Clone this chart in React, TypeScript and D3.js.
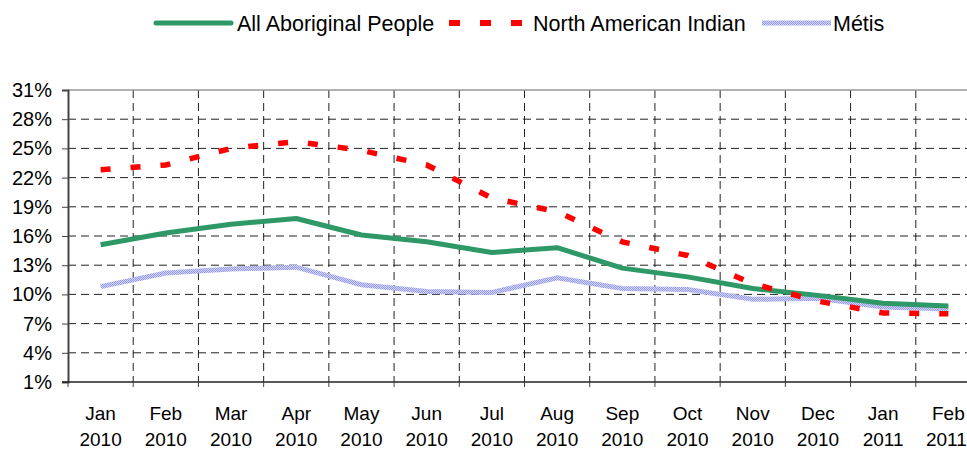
import React, { useEffect, useRef } from 'react';
import * as d3 from 'd3';

const months = ['Jan', 'Feb', 'Mar', 'Apr', 'May', 'Jun', 'Jul', 'Aug', 'Sep', 'Oct', 'Nov', 'Dec', 'Jan', 'Feb'];
const years = ['2010', '2010', '2010', '2010', '2010', '2010', '2010', '2010', '2010', '2010', '2010', '2010', '2011', '2011'];
const allAboriginal = [15.1, 16.3, 17.2, 17.8, 16.1, 15.4, 14.3, 14.8, 12.7, 11.8, 10.6, 9.9, 9.1, 8.8];
const northAmericanIndian = [22.8, 23.3, 25.0, 25.7, 24.8, 23.3, 19.9, 18.5, 15.4, 14.0, 11.1, 9.3, 8.1, 8.0];
const metis = [10.8, 12.2, 12.6, 12.8, 11.0, 10.3, 10.2, 11.7, 10.6, 10.5, 9.5, 9.6, 8.7, 8.5];
const yTicks = [1, 4, 7, 10, 13, 16, 19, 22, 25, 28, 31];

const App = () => {
  const svgRef = useRef<SVGSVGElement>(null);

  useEffect(() => {
    const W = 967;
    const H = 449;
    const margin = { top: 90, left: 68, bottom: 382, right: 981 };
    const font = '"Liberation Sans", Arial, sans-serif';

    const svg = d3.select(svgRef.current).attr('width', W).attr('height', H);
    svg.selectAll('*').remove();

    const keys = months.map((m, i) => `${m} ${years[i]} ${i}`);
    const x = d3.scaleBand().domain(keys).range([margin.left, margin.right]);
    const y = d3.scaleLinear().domain([1, 31]).range([margin.bottom, margin.top]);

    // pattern for the Métis line
    const defs = svg.append('defs');
    const pat = defs
      .append('pattern')
      .attr('id', 'metisPat')
      .attr('patternUnits', 'userSpaceOnUse')
      .attr('width', 2)
      .attr('height', 2);
    pat.append('rect').attr('width', 2).attr('height', 2).attr('fill', '#d6d8fc');
    pat.append('rect').attr('width', 1).attr('height', 1).attr('fill', '#9096f2');
    pat.append('rect').attr('x', 1).attr('y', 1).attr('width', 1).attr('height', 1).attr('fill', '#9096f2');

    // horizontal gridlines
    svg
      .append('g')
      .selectAll('line')
      .data(yTicks.filter((t) => t > 1 && t < 31))
      .enter()
      .append('line')
      .attr('x1', margin.left)
      .attr('x2', margin.right)
      .attr('y1', (d) => y(d))
      .attr('y2', (d) => y(d))
      .attr('stroke', '#222')
      .attr('stroke-width', 1)
      .attr('stroke-dasharray', '8,5');

    // vertical gridlines at category boundaries
    svg
      .append('g')
      .selectAll('line')
      .data(keys.slice(1))
      .enter()
      .append('line')
      .attr('x1', (d) => x(d)!)
      .attr('x2', (d) => x(d)!)
      .attr('y1', margin.top)
      .attr('y2', margin.bottom)
      .attr('stroke', '#222')
      .attr('stroke-width', 1)
      .attr('stroke-dasharray', '8,5');

    // top border
    svg
      .append('line')
      .attr('x1', margin.left)
      .attr('x2', margin.right)
      .attr('y1', y(31))
      .attr('y2', y(31))
      .attr('stroke', '#999')
      .attr('stroke-width', 1.5);

    // y axis
    const yAxis = svg
      .append('g')
      .attr('transform', `translate(${margin.left},0)`)
      .call(d3.axisLeft(y).tickValues(yTicks).tickSize(6).tickFormat((d) => `${d}%`));
    yAxis.select('.domain').attr('stroke', '#444').attr('stroke-width', 2);
    yAxis.selectAll('.tick line').attr('stroke', '#444');
    yAxis
      .selectAll('.tick text')
      .attr('x', -16)
      .attr('fill', '#000')
      .style('font-family', font)
      .style('font-size', '20px');

    // x axis
    const xAxis = svg.append('g').attr('transform', `translate(0,${margin.bottom})`);
    xAxis
      .append('line')
      .attr('x1', margin.left - 6)
      .attr('x2', margin.right)
      .attr('stroke', '#222')
      .attr('stroke-width', 1.5);
    xAxis
      .selectAll('.tk')
      .data(keys)
      .enter()
      .append('line')
      .attr('x1', (d) => x(d)!)
      .attr('x2', (d) => x(d)!)
      .attr('y1', 0)
      .attr('y2', 5)
      .attr('stroke', '#444');
    const lbl = xAxis
      .selectAll('.lbl')
      .data(keys)
      .enter()
      .append('text')
      .attr('x', (d) => x(d)! + x.bandwidth() / 2)
      .attr('text-anchor', 'middle')
      .style('font-family', font)
      .style('font-size', '19px')
      .attr('fill', '#000');
    lbl.append('tspan').attr('y', 38).text((d, i) => months[i]);
    lbl
      .append('tspan')
      .attr('x', (d, i) => x(d)! + x.bandwidth() / 2 - (i === keys.length - 1 ? 2 : 0))
      .attr('y', 64)
      .text((d, i) => years[i]);

    const line = d3
      .line<number>()
      .x((d, i) => x(keys[i])! + x.bandwidth() / 2)
      .y((d) => y(d));

    svg
      .append('path')
      .datum(metis)
      .attr('d', line)
      .attr('fill', 'none')
      .attr('stroke', 'url(#metisPat)')
      .attr('stroke-width', 5);

    svg
      .append('path')
      .datum(allAboriginal)
      .attr('d', line)
      .attr('fill', 'none')
      .attr('stroke', '#2e9966')
      .attr('stroke-width', 5)
      .attr('stroke-linejoin', 'round');

    svg
      .append('path')
      .datum(northAmericanIndian)
      .attr('d', line)
      .attr('fill', 'none')
      .attr('stroke', '#ff0000')
      .attr('stroke-width', 5.5)
      .attr('stroke-dasharray', '10,20');

    // legend
    const legend = svg.append('g');
    const ly = 23;
    legend
      .append('line')
      .attr('x1', 156)
      .attr('x2', 231)
      .attr('y1', ly)
      .attr('y2', ly)
      .attr('stroke', '#2e9966')
      .attr('stroke-width', 5)
      .attr('stroke-linecap', 'round');
    legend
      .append('line')
      .attr('x1', 449)
      .attr('x2', 523)
      .attr('y1', ly)
      .attr('y2', ly)
      .attr('stroke', '#ff0000')
      .attr('stroke-width', 6)
      .attr('stroke-dasharray', '11,20');
    legend
      .append('line')
      .attr('x1', 762)
      .attr('x2', 831)
      .attr('y1', ly)
      .attr('y2', ly)
      .attr('stroke', 'url(#metisPat)')
      .attr('stroke-width', 5);
    const legendText = [
      { x: 237, t: 'All Aboriginal People' },
      { x: 533, t: 'North American Indian' },
      { x: 833, t: 'Métis' }
    ];
    legend
      .selectAll('text')
      .data(legendText)
      .enter()
      .append('text')
      .attr('x', (d) => d.x)
      .attr('y', ly + 8)
      .style('font-family', font)
      .style('font-size', '21.5px')
      .attr('fill', '#000')
      .text((d) => d.t);
  }, []);

  return <svg ref={svgRef} style={{ position: 'absolute', left: 0, top: 0, background: '#fff' }}></svg>;
};

export default App;
